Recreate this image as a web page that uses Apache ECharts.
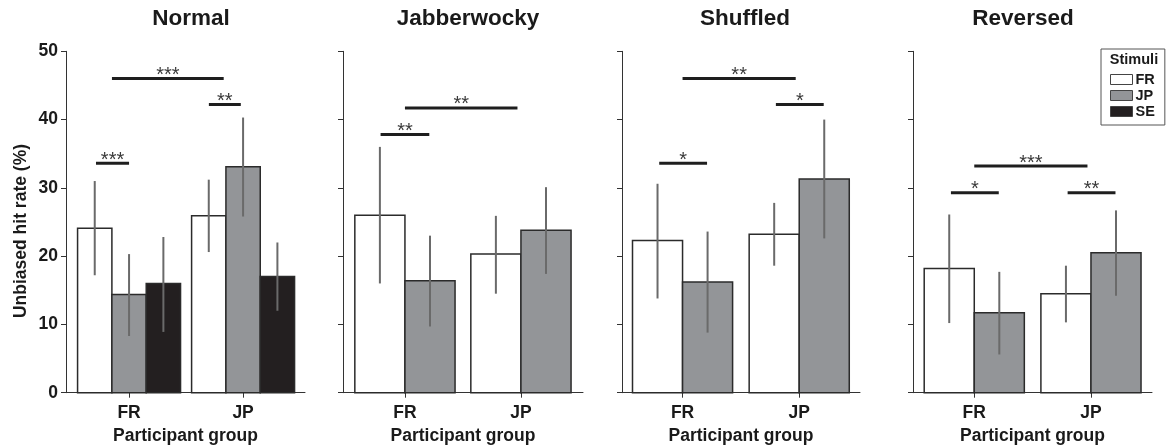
<!DOCTYPE html>
<html>
<head>
<meta charset="utf-8">
<script src="https://cdn.jsdelivr.net/npm/echarts@6/dist/echarts.min.js"></script>
<style>html,body{margin:0;padding:0;background:#fff;}#c{width:1175px;height:446px;}</style>
</head>
<body>
<div id="c"></div>
<script>
// ---------- data ----------
const groups = ['FR', 'JP'];                 // participant group (x categories)
const stimuli = ['FR', 'JP', 'SE'];          // stimulus language (series)
const panelTitles = ['Normal', 'Jabberwocky', 'Shuffled', 'Reversed'];
const yTicks = [0, 10, 20, 30, 40, 50];

// rows = participant group (FR, JP); columns = stimuli
const normalMean = [[24.1, 14.4, 16.0], [25.9, 33.1, 17.0]];
const normalLow  = [[17.2,  8.3,  8.9], [20.6, 25.8, 12.0]];
const normalHigh = [[31.0, 20.3, 22.8], [31.2, 40.3, 22.0]];

const jabberMean = [[26.0, 16.4], [20.3, 23.8]];
const jabberLow  = [[16.0,  9.7], [14.5, 17.4]];
const jabberHigh = [[36.0, 23.0], [25.9, 30.1]];

const shuffMean = [[22.3, 16.2], [23.2, 31.3]];
const shuffLow  = [[13.8,  8.8], [18.6, 22.6]];
const shuffHigh = [[30.6, 23.6], [27.8, 40.0]];

const revMean = [[18.2, 11.7], [14.5, 20.5]];
const revLow  = [[10.2,  5.6], [10.3, 14.2]];
const revHigh = [[26.1, 17.7], [18.6, 26.7]];

// significance brackets: [from (group units), to (group units), y value, label]
const normalSig = [[-0.29, 0.0, 33.6, '***'], [-0.15, 0.83, 46.0, '***'], [0.70, 0.98, 42.2, '**']];
const jabberSig = [[-0.21, 0.21, 37.8, '**'], [0.0, 0.97, 41.7, '**']];
const shuffSig  = [[-0.20, 0.21, 33.6, '*'], [0.0, 0.97, 46.0, '**'], [0.80, 1.21, 42.2, '*']];
const revSig    = [[-0.20, 0.21, 29.3, '*'], [0.0, 0.97, 33.2, '***'], [0.80, 1.21, 29.3, '**']];

// ---------- layout / style ----------
const panelData = [
  {mean: normalMean, low: normalLow, high: normalHigh, sig: normalSig},
  {mean: jabberMean, low: jabberLow, high: jabberHigh, sig: jabberSig},
  {mean: shuffMean, low: shuffLow, high: shuffHigh, sig: shuffSig},
  {mean: revMean, low: revLow, high: revHigh, sig: revSig}
];
const gridBox = [
  {left: 66, width: 239, min: -0.553, max: 1.543, barW: 0.301, titleX: 191},
  {left: 343, width: 240, min: -0.534, max: 1.535, barW: 0.432, titleX: 468},
  {left: 622, width: 238, min: -0.519, max: 1.521, barW: 0.429, titleX: 745},
  {left: 913, width: 239, min: -0.525, max: 1.523, barW: 0.429, titleX: 1023}
];
const TOP = 51.3, BOTTOM_Y = 392.7;
const fills = {FR: '#ffffff', JP: '#939598', SE: '#231f20'};
const FONT = 'Liberation Sans, Arial, sans-serif';
const TXT = '#1a1a1a';
const AX = 17.5;

const grids = [], xAxes = [], yAxes = [], series = [], graphics = [];
panelData.forEach((pd, pi) => {
  const gb = gridBox[pi];
  grids.push({left: gb.left, width: gb.width, top: TOP, height: BOTTOM_Y - TOP,
    containLabel: false, outerBoundsMode: 'none'});
  xAxes.push({
    type: 'value', gridIndex: pi, min: gb.min, max: gb.max,
    name: 'Participant group', nameLocation: 'middle', nameGap: 34,
    nameTextStyle: {fontFamily: FONT, fontWeight: 'bold', fontSize: AX, color: TXT},
    axisLine: {show: true, onZero: false, lineStyle: {color: '#333', width: 1}},
    axisTick: {show: true, length: 5, customValues: [0, 1], lineStyle: {color: '#333'}},
    axisLabel: {show: true, customValues: [0, 1], margin: 11, formatter: v => groups[Math.round(v)],
      fontFamily: FONT, fontWeight: 'bold', fontSize: AX, color: TXT},
    splitLine: {show: false}
  });
  yAxes.push({
    type: 'value', gridIndex: pi, min: 0, max: 50, interval: 10,
    name: pi === 0 ? 'Unbiased hit rate (%)' : '', nameLocation: 'middle', nameGap: 36,
    nameTextStyle: {fontFamily: FONT, fontWeight: 'bold', fontSize: AX, color: TXT, padding: [0, 18, 0, 0]},
    axisLine: {show: true, onZero: false, lineStyle: {color: '#333', width: 1}},
    axisTick: {show: true, length: 5, lineStyle: {color: '#333'}},
    axisLabel: {show: pi === 0, margin: 8, fontFamily: FONT, fontWeight: 'bold', fontSize: AX, color: TXT},
    splitLine: {show: false}
  });
  const nS = pd.mean[0].length;
  for (let s = 0; s < nS; s++) {
    const offset = (s - (nS - 1) / 2) * gb.barW;
    const data = groups.map((g, gi) => [gi, pd.mean[gi][s], pd.low[gi][s], pd.high[gi][s]]);
    series.push({
      type: 'custom', name: stimuli[s], xAxisIndex: pi, yAxisIndex: pi,
      itemStyle: {color: fills[stimuli[s]]},
      data: data,
      renderItem: (params, api) => {
        const xc = api.value(0) + offset;
        const p0 = api.coord([xc - gb.barW / 2, api.value(1)]);
        const p1 = api.coord([xc + gb.barW / 2, 0]);
        const e0 = api.coord([xc, api.value(2)]);
        const e1 = api.coord([xc, api.value(3)]);
        return {type: 'group', children: [
          {type: 'rect', shape: {x: p0[0], y: p0[1], width: p1[0] - p0[0], height: p1[1] - p0[1]},
           style: {fill: fills[stimuli[s]], stroke: '#2b2b2b', lineWidth: 1.5}},
          {type: 'line', shape: {x1: e0[0], y1: e0[1], x2: e1[0], y2: e1[1]},
           style: {stroke: '#6a6a6a', lineWidth: 2}}
        ]};
      }
    });
  }
  series.push({
    type: 'custom', name: 'sig' + pi, xAxisIndex: pi, yAxisIndex: pi, silent: true,
    data: pd.sig.map(r => [r[0], r[1], r[2]]),
    renderItem: (params, api) => {
      const a = api.coord([api.value(0), api.value(2)]);
      const b = api.coord([api.value(1), api.value(2)]);
      return {type: 'group', children: [
        {type: 'line', shape: {x1: a[0], y1: a[1], x2: b[0], y2: b[1]}, style: {stroke: '#1e1e1e', lineWidth: 3}},
        {type: 'text', x: (a[0] + b[0]) / 2, y: a[1] - 3,
         style: {text: pd.sig[params.dataIndex][3], fill: '#3a3a3a', font: '20px ' + FONT,
                 textAlign: 'center', textVerticalAlign: 'middle'}}
      ]};
    }
  });
  graphics.push({type: 'text', x: gb.titleX, y: 18.5,
    style: {text: panelTitles[pi], font: 'bold 22.5px ' + FONT, fill: TXT, textAlign: 'center', textVerticalAlign: 'middle'}});
});

graphics.push({type: 'text', x: 1134, y: 60,
  style: {text: 'Stimuli', font: 'bold 14.5px ' + FONT, fill: TXT, textAlign: 'center', textVerticalAlign: 'middle'}});

const option = {
  backgroundColor: '#fff',
  animation: false,
  grid: grids, xAxis: xAxes, yAxis: yAxes, series: series,
  graphic: graphics,
  legend: {
    orient: 'vertical', left: 1101, top: 49, itemWidth: 22, itemHeight: 10, itemGap: 1,
    padding: [23, 10, 6, 9], borderColor: '#555', borderWidth: 1,
    textStyle: {fontFamily: FONT, fontWeight: 'bold', fontSize: 14.5, color: TXT, lineHeight: 13.5, padding: [0, 0, 0, -2]},
    data: stimuli.map(s => ({name: s, icon: 'rect', itemStyle: {color: fills[s], borderColor: '#444', borderWidth: 1}}))
  }
};
echarts.init(document.getElementById('c')).setOption(option);
</script>
</body>
</html>
